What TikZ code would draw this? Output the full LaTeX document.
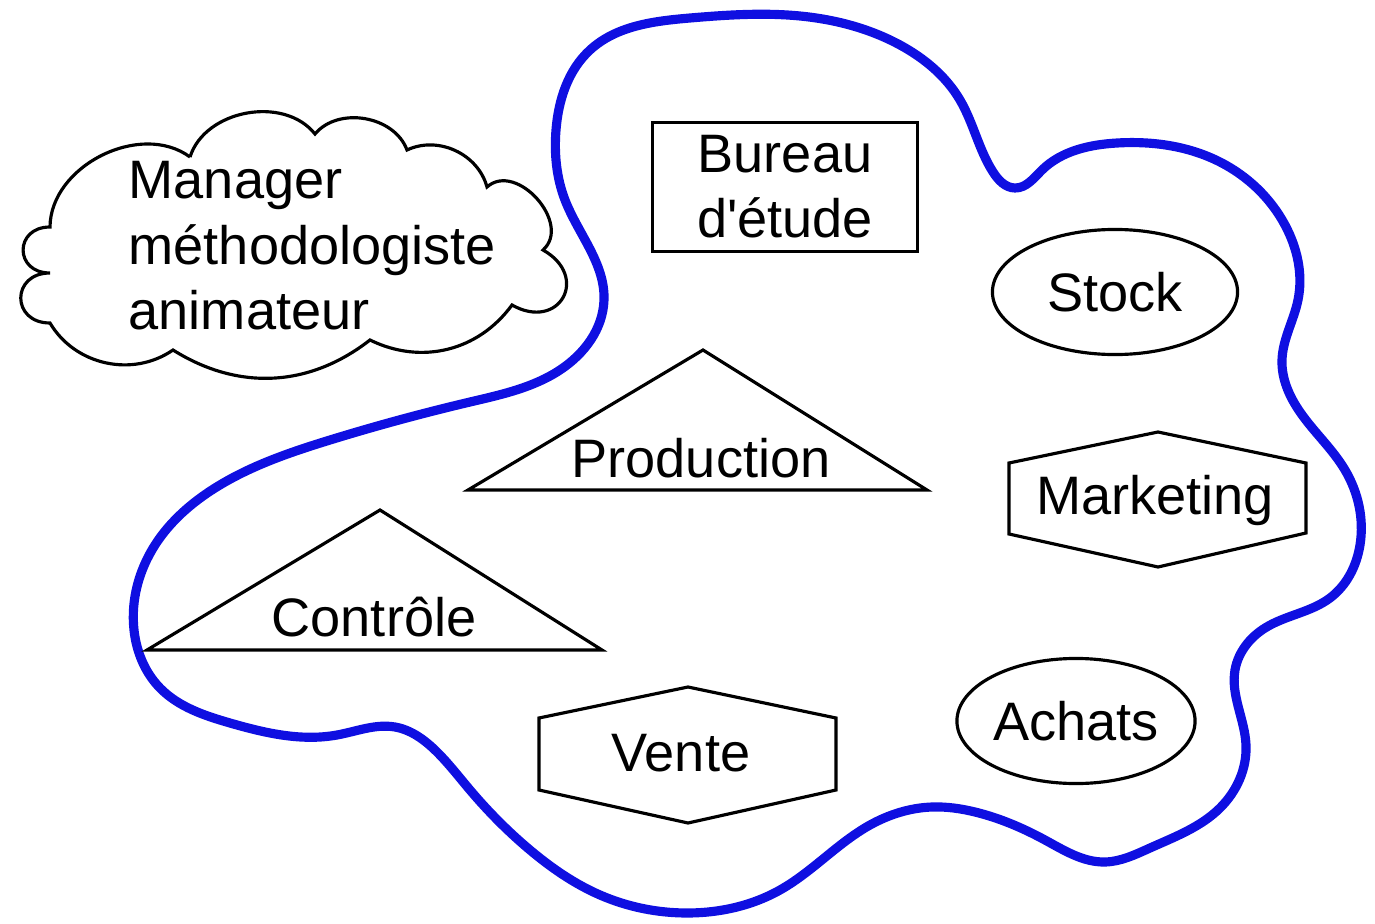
\documentclass[tikz,border=0pt]{standalone}
\usepackage{fontspec}
\setmainfont{Liberation Sans}
\usepackage{tikz}
\usetikzlibrary{shapes.geometric}
\usetikzlibrary{positioning}
\usetikzlibrary{hobby}
\definecolor{blobblue}{RGB}{15,15,225}

\begin{document}
\begin{tikzpicture}[x=0.01cm,y=-0.01cm,
  every node/.style={font=\fontsize{15.4}{18.5}\selectfont,inner sep=0pt},
  shp/.style={draw,line width=0.9pt},
  blob/.style={draw=blobblue,line width=2.6pt,use Hobby shortcut,closed=true}]
\useasboundingbox (0,0) rectangle (1375,924);
\draw[blob] (556,130) .. (590,50) .. (690,18) .. (800,16) .. (900,45) .. (960,100)
  .. (993,172) .. (1015,188) .. (1042,170) .. (1117,143) .. (1220,162) .. (1285,225)
  .. (1298,300) .. (1282,360) .. (1300,412) .. (1345,470) .. (1360,545) .. (1330,598)
  .. (1265,628) .. (1235,670) .. (1246,745) .. (1220,808) .. (1150,848) .. (1105,862)
  .. (1045,840) .. (975,812) .. (932,807) .. (870,825) .. (780,890) .. (688,913)
  .. (600,895) .. (530,850) .. (470,790) .. (437,752) .. (395,727) .. (337,735)
  .. (230,723) .. (160,688) .. (134,630) .. (155,545) .. (215,488) .. (330,440)
  .. (470,402) .. (560,370) .. (604,300) .. (565,200);
\draw[shp] (190,157) to[bend left=62] (315,134) to[bend left=60] (407,150)
  to[bend left=50] (487,187) to[bend left=90,looseness=1.2] (543,250)
  to[bend left=90,looseness=2.2] (512,305) to[bend left=40] (370,340)
  to[bend left=35] (173,350) to[bend left=47] (50,323)
  to[bend left=90,looseness=2] (50,273) to[bend left=90,looseness=2] (50,227)
  to[bend left=63] (190,157);
\node[align=left,anchor=north west] (manager) at (128,161)
  {Manager\\méthodologiste\\animateur};
\node[shp,rectangle,align=center,minimum width=2.65cm,minimum height=1.29cm]
  (bureau) at (785,187) {Bureau\\d\textquotesingle étude};
\node[shp,ellipse,minimum width=2.45cm,minimum height=1.25cm] (stock) at (1115,292) {Stock};
\node[shp,ellipse,minimum width=2.38cm,minimum height=1.25cm] (achats) at (1076,721) {Achats};
\draw[shp] (468,490) -- (703,350) -- (927,490) -- cycle;
\node (production) at (701,458) {Production};
\draw[shp] (147,650) -- (380,510) -- (602,650) -- cycle;
\node (controle) at (374,617) {Contrôle};
\draw[shp] (1009,463) -- (1158,432) -- (1306,463) -- (1306,533) -- (1158,567) -- (1009,534) -- cycle;
\node (marketing) at (1155,500) {Marketing};
\draw[shp] (539,718) -- (688,687) -- (836,718) -- (836,790) -- (688,823) -- (539,790) -- cycle;
\node (vente) at (681,753) {Vente};
\end{tikzpicture}
\end{document}
